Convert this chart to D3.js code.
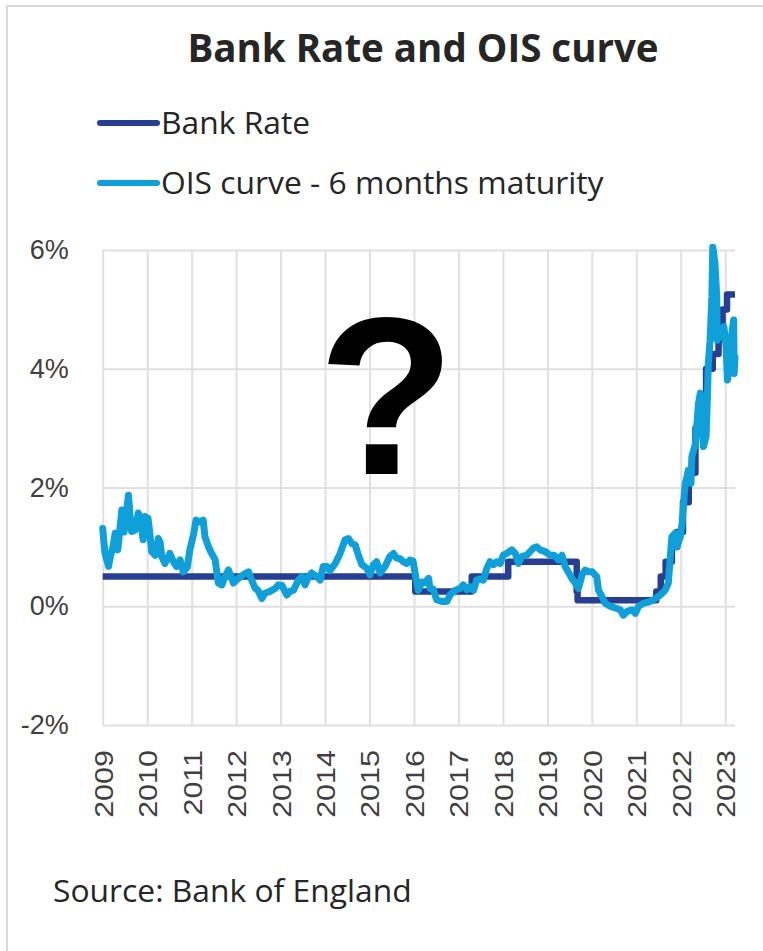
<!DOCTYPE html>
<html><head><meta charset="utf-8">
<script src="https://cdn.jsdelivr.net/npm/d3@7"></script>
<style>body{margin:0;background:#fff}</style>
</head><body>
<svg id="c" width="763" height="951"></svg>
<script>
const titleText = "Bank Rate and OIS curve";
const seriesNames = ["Bank Rate", "OIS curve - 6 months maturity"];
const seriesColors = ["#283e91", "#0f9fd9"];
const sourceText = "Source: Bank of England";
const yearTicks = [2009,2010,2011,2012,2013,2014,2015,2016,2017,2018,2019,2020,2021,2022,2023];
const valueTicks = [6,4,2,0,-2];

// Bank Rate (step series): [chart year position, %]
const bankRate = [
  [2009.00,0.5],[2016.03,0.25],[2017.30,0.5],[2018.12,0.75],[2019.66,0.25],[2019.68,0.1],
  [2021.45,0.25],[2021.55,0.5],[2021.66,0.75],[2021.80,1.0],[2021.92,1.25],[2022.05,1.75],
  [2022.18,2.25],[2022.33,3.0],[2022.43,3.5],[2022.57,4.0],[2022.72,4.25],[2022.85,4.5],
  [2022.94,5.0],[2023.04,5.25],[2023.22,5.25]
];

// OIS curve - 6 months maturity: [chart year position, %]
const ois = [
  [2009.00,1.31],[2009.05,0.90],[2009.13,0.67],[2009.18,0.86],[2009.23,1.00],[2009.28,1.23],
  [2009.34,0.95],[2009.43,1.62],[2009.48,1.25],[2009.52,1.51],[2009.58,1.87],[2009.61,1.57],
  [2009.65,1.26],[2009.73,1.28],[2009.80,1.57],[2009.85,1.45],[2009.91,1.12],[2009.95,1.51],
  [2010.02,1.48],[2010.06,1.23],[2010.10,0.92],[2010.18,0.86],[2010.25,1.14],[2010.29,1.08],
  [2010.33,0.83],[2010.40,0.72],[2010.51,0.89],[2010.59,0.75],[2010.66,0.67],[2010.74,0.78],
  [2010.81,0.58],[2010.90,0.65],[2010.96,0.95],[2011.04,1.20],[2011.10,1.45],[2011.19,1.42],
  [2011.26,1.45],[2011.30,1.17],[2011.38,1.00],[2011.45,0.89],[2011.53,0.78],[2011.60,0.39],
  [2011.68,0.36],[2011.75,0.50],[2011.83,0.61],[2011.94,0.39],[2012.05,0.47],[2012.16,0.53],
  [2012.28,0.58],[2012.35,0.44],[2012.43,0.30],[2012.49,0.27],[2012.58,0.13],[2012.65,0.22],
  [2012.76,0.25],[2012.88,0.30],[2012.95,0.36],[2013.03,0.35],[2013.14,0.19],[2013.21,0.25],
  [2013.29,0.27],[2013.40,0.44],[2013.48,0.50],[2013.55,0.36],[2013.63,0.50],[2013.70,0.56],
  [2013.81,0.50],[2013.89,0.44],[2013.96,0.67],[2014.04,0.67],[2014.11,0.60],[2014.23,0.72],
  [2014.34,0.89],[2014.45,1.12],[2014.53,1.14],[2014.60,1.06],[2014.68,1.03],[2014.75,0.86],
  [2014.83,0.70],[2014.94,0.64],[2015.01,0.53],[2015.09,0.70],[2015.16,0.75],[2015.24,0.56],
  [2015.35,0.67],[2015.46,0.84],[2015.54,0.89],[2015.61,0.81],[2015.69,0.80],[2015.76,0.75],
  [2015.84,0.72],[2015.91,0.78],[2015.98,0.76],[2016.03,0.53],[2016.10,0.27],[2016.18,0.41],
  [2016.25,0.40],[2016.33,0.47],[2016.36,0.30],[2016.43,0.29],[2016.51,0.11],[2016.63,0.08],
  [2016.74,0.08],[2016.81,0.19],[2016.93,0.27],[2017.04,0.30],[2017.11,0.36],[2017.19,0.28],
  [2017.26,0.33],[2017.34,0.27],[2017.41,0.44],[2017.49,0.46],[2017.56,0.44],[2017.64,0.64],
  [2017.71,0.75],[2017.79,0.70],[2017.86,0.75],[2017.94,0.72],[2018.01,0.86],[2018.09,0.89],
  [2018.20,0.95],[2018.28,0.89],[2018.35,0.72],[2018.43,0.84],[2018.54,0.86],[2018.61,0.92],
  [2018.69,0.98],[2018.76,1.00],[2018.84,0.95],[2018.95,0.92],[2019.06,0.86],[2019.15,0.86],
  [2019.25,0.78],[2019.33,0.86],[2019.40,0.67],[2019.47,0.58],[2019.55,0.47],[2019.63,0.39],
  [2019.70,0.30],[2019.78,0.53],[2019.85,0.61],[2019.92,0.58],[2020.01,0.58],[2020.11,0.50],
  [2020.15,0.27],[2020.23,0.16],[2020.30,0.05],[2020.41,0.00],[2020.53,-0.03],[2020.64,-0.06],
  [2020.71,-0.15],[2020.79,-0.09],[2020.90,-0.06],[2020.98,-0.12],[2021.05,0.00],[2021.16,0.05],
  [2021.31,0.08],[2021.43,0.13],[2021.54,0.19],[2021.65,0.27],[2021.72,0.39],[2021.76,0.78],
  [2021.80,1.17],[2021.87,1.23],[2021.91,1.00],[2021.99,1.17],[2022.03,1.40],[2022.06,1.68],
  [2022.10,2.07],[2022.14,2.18],[2022.17,2.29],[2022.23,2.07],[2022.25,2.52],[2022.33,2.74],
  [2022.40,3.42],[2022.44,3.59],[2022.48,3.19],[2022.51,2.69],[2022.57,2.86],[2022.60,3.53],
  [2022.62,4.09],[2022.66,4.48],[2022.70,5.21],[2022.72,6.05],[2022.75,5.90],[2022.77,5.77],
  [2022.81,5.21],[2022.82,4.48],[2022.86,4.65],[2022.92,4.54],[2022.97,4.71],[2023.02,4.37],
  [2023.05,3.81],[2023.10,4.03],[2023.13,4.48],[2023.19,4.82],[2023.20,3.92],[2023.22,4.20]
];

const svg = d3.select("#c");
svg.append("rect").attr("width",763).attr("height",951).attr("fill","#fff");

// outer frame
svg.append("line").attr("x1",7).attr("x2",7).attr("y1",5).attr("y2",951)
  .attr("stroke","#d9d9d9").attr("stroke-width",2);
svg.append("line").attr("x1",6).attr("x2",763).attr("y1",6).attr("y2",6)
  .attr("stroke","#d9d9d9").attr("stroke-width",2);

const L = 102.7, R = 735, T = 250, B = 725;
const x = d3.scaleLinear().domain([2009, 2023.22]).range([L, R]);
const y = d3.scaleLinear().domain([-2, 6]).range([B, T]);

// vertical grid
const gx = svg.append("g").attr("transform",`translate(0,${B})`)
  .call(d3.axisBottom(x).tickValues(yearTicks).tickSize(-(B-T)).tickFormat(""));
gx.select(".domain").remove();
gx.selectAll(".tick line").attr("stroke","#e0e0e0").attr("stroke-width",2);

// horizontal grid
const gy = svg.append("g").attr("transform",`translate(${L},0)`)
  .call(d3.axisLeft(y).tickValues(valueTicks).tickSize(-(R-L)).tickFormat(""));
gy.select(".domain").remove();
gy.selectAll(".tick line").attr("stroke","#e0e0e0").attr("stroke-width",2);

// y labels
const yl = svg.append("g").attr("transform",`translate(${L},0)`)
  .call(d3.axisLeft(y).tickValues(valueTicks).tickSize(0).tickPadding(34).tickFormat(d => d + "%"));
yl.select(".domain").remove();
yl.selectAll("text").attr("font-family","'Liberation Sans', Arial, sans-serif")
  .attr("font-size",27).attr("fill","#404040");

// x labels
const xl = svg.append("g").attr("transform",`translate(0,${B})`)
  .call(d3.axisBottom(x).tickValues(yearTicks).tickSize(0).tickFormat(d3.format("d")));
xl.select(".domain").remove();
xl.selectAll("text")
  .attr("x",0).attr("y",0).attr("dy","0.36em")
  .attr("text-anchor","end")
  .attr("transform","translate(0,25) scale(0.86,1) rotate(-90)")
  .attr("font-family","'Liberation Sans', Arial, sans-serif")
  .attr("font-size",30.5).attr("fill","#404040");

// series
const line = d3.line().x(d => x(d[0])).y(d => y(d[1]));
const defs = svg.append("defs");
defs.append("clipPath").attr("id","clip").append("rect")
  .attr("x",L-10).attr("y",T-6).attr("width",R-L+20).attr("height",B-T+20);

svg.append("path").datum(bankRate)
  .attr("d", line.curve(d3.curveStepAfter))
  .attr("fill","none").attr("stroke",seriesColors[0]).attr("stroke-width",6.5)
  .attr("stroke-linejoin","round");
svg.append("path").datum(ois)
  .attr("clip-path","url(#clip)")
  .attr("d", d3.line().x(d => x(d[0])).y(d => y(d[1])))
  .attr("fill","none").attr("stroke",seriesColors[1]).attr("stroke-width",7)
  .attr("stroke-linejoin","round").attr("stroke-linecap","round");

// title
svg.append("text").attr("x",423).attr("y",62).attr("text-anchor","middle")
  .attr("font-family","'Open Sans', sans-serif").attr("font-weight",700)
  .attr("font-size",38.5).attr("fill","#262626").text(titleText);

// legend
const lg = svg.append("g").selectAll("g").data(seriesNames).join("g")
  .attr("transform",(d,i) => `translate(0,${123 + i*60})`);
lg.append("line").attr("x1",100).attr("x2",157).attr("y1",0).attr("y2",0)
  .attr("stroke",(d,i) => seriesColors[i]).attr("stroke-width",6).attr("stroke-linecap","round");
lg.append("text").attr("x",161).attr("y",11)
  .attr("font-family","'Open Sans', sans-serif").attr("font-size",31.8)
  .attr("fill","#262626").text(d => d);

// source
svg.append("text").attr("x",53).attr("y",902)
  .attr("font-family","'Open Sans', sans-serif").attr("font-size",31.8)
  .attr("fill","#262626").text(sourceText);

// question mark
svg.append("text").attr("x",386.5).attr("y",474).attr("text-anchor","middle")
  .attr("font-family","'Liberation Sans', Arial, sans-serif").attr("font-weight",700)
  .attr("font-size",224).attr("fill","#000").text("?");
</script>
</body></html>
